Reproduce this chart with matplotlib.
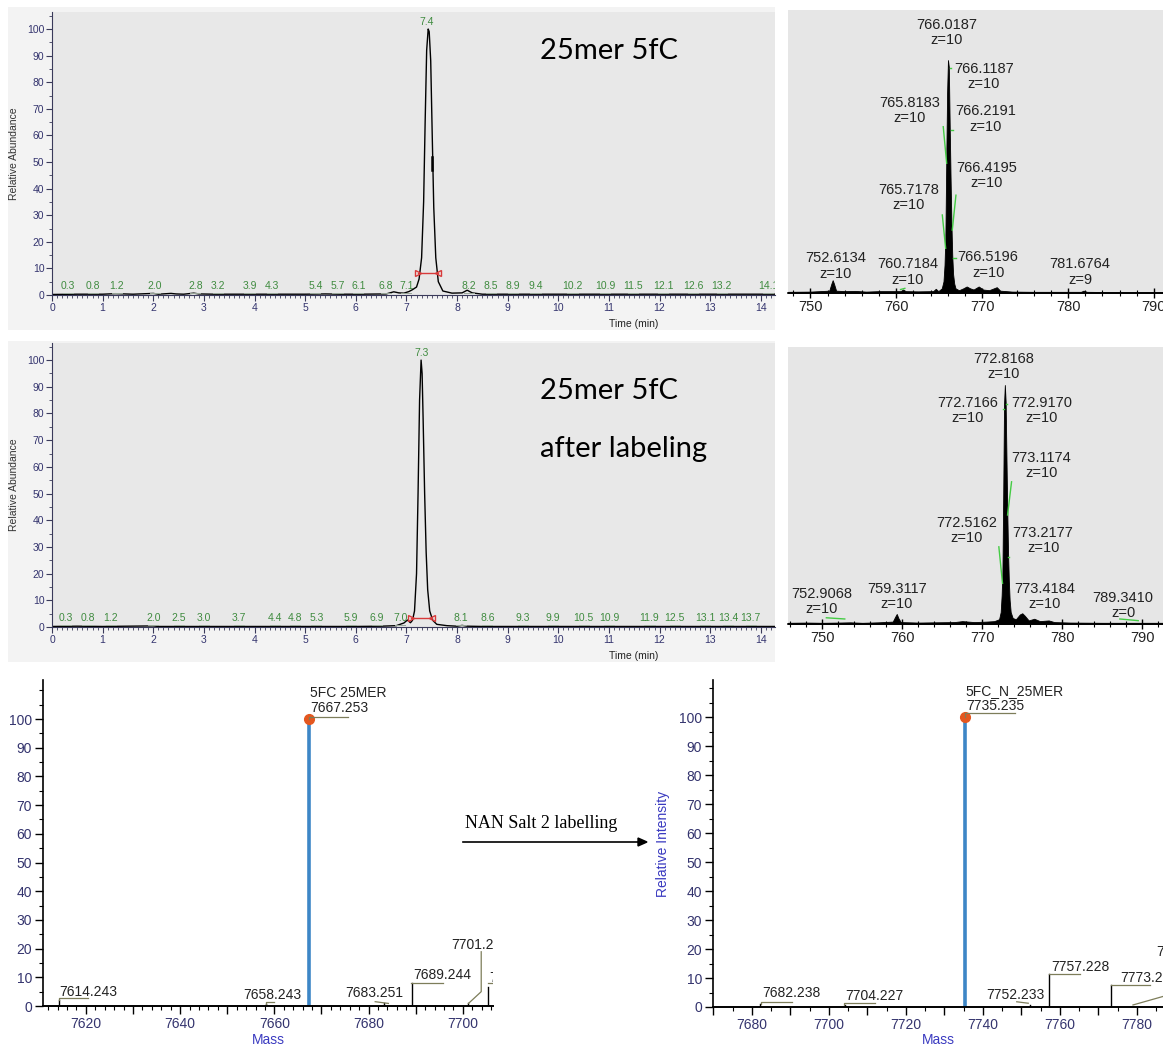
import numpy as np
import matplotlib.pyplot as plt
from matplotlib.patches import Rectangle
from matplotlib.ticker import MultipleLocator, FuncFormatter

W, H = 1163, 1049
plt.rcParams['font.family'] = ['Liberation Sans', 'DejaVu Sans']

# ---- chromatogram 1 : 25mer 5fC
t1 = [0.0, 0.5, 1.0, 1.25, 1.6, 2.0, 2.1, 2.35, 2.45, 2.6, 2.8, 2.9, 3.2, 3.9, 4.3, 5.0, 5.4, 5.7,
      6.1, 6.6, 6.75, 6.85, 6.95, 7.05, 7.12, 7.2, 7.25, 7.3, 7.34, 7.37, 7.4, 7.43, 7.45, 7.48,
      7.51, 7.54, 7.58, 7.63, 7.72, 7.9, 8.1, 8.2, 8.3, 8.5, 9.0, 10.0, 12.0, 14.3]
i1 = [0.2, 0.3, 0.3, 0.5, 0.3, 0.6, 0.3, 0.6, 0.4, 0.3, 0.7, 0.4, 0.3, 0.3, 0.3, 0.3, 0.4, 0.3,
      0.3, 0.4, 1.2, 0.8, 0.7, 1.3, 2.0, 3.0, 6.0, 14, 35, 65, 92, 100, 99, 88,
      60, 33, 14, 5, 1.5, 0.7, 0.8, 1.8, 0.8, 0.3, 0.3, 0.3, 0.3, 0.3]
lab1 = [0.3, 0.8, 1.2, 2.0, 2.8, 3.2, 3.9, 4.3, 5.4, 5.7, 6.1, 6.8, 7.1, 8.2, 8.5, 8.9, 9.4,
        10.2, 10.9, 11.5, 12.1, 12.6, 13.2, 14.1]
apex1 = 7.4

# ---- chromatogram 2 : 25mer 5fC after labeling
t2 = [0.0, 0.5, 1.0, 2.0, 2.1, 3.0, 4.0, 5.0, 6.0, 6.5, 6.8, 6.95, 7.02, 7.08, 7.12, 7.16, 7.2,
      7.23, 7.26, 7.29, 7.31, 7.33, 7.36, 7.39, 7.42, 7.46, 7.52, 7.6, 7.8, 8.0, 8.1, 8.2, 8.5,
      10.0, 12.0, 14.3]
i2 = [0.2, 0.3, 0.2, 0.4, 0.2, 0.2, 0.2, 0.2, 0.2, 0.3, 0.5, 1.5, 2.6, 1.6, 2.5, 6, 20,
      50, 85, 100, 95, 78, 50, 28, 14, 6, 2.5, 1.0, 0.5, 0.3, 0.6, 0.3, 0.2,
      0.2, 0.2, 0.2]
lab2 = [0.3, 0.8, 1.2, 2.0, 2.5, 3.0, 3.7, 4.4, 4.8, 5.3, 5.9, 6.9, 7.0, 8.1, 8.6, 9.3, 9.9,
        10.5, 10.9, 11.9, 12.5, 13.1, 13.4, 13.7]
apex2 = 7.3

# where the peak labels sit along the time axis (layout only)
lab1_x = [0.32, 0.81, 1.28, 2.03, 2.83, 3.28, 3.9, 4.34, 5.2, 5.64, 6.05, 6.6, 7.0, 8.24, 8.67,
          9.1, 9.55, 10.28, 10.93, 11.48, 12.07, 12.66, 13.23, 14.15]
lab2_x = [0.27, 0.7, 1.16, 2.0, 2.5, 3.0, 3.7, 4.4, 4.8, 5.22, 5.9, 6.42, 6.88, 8.08, 8.6, 9.3,
          9.9, 10.5, 11.0, 11.8, 12.3, 12.9, 13.35, 13.8]

# ---- MS spectrum 1 (m/z)
mz1 = [747.4, 750, 752.2, 752.45, 752.6, 752.75, 753.0, 754.0, 755.2, 756.5, 758, 760.5, 760.8,
       761.1, 762.5, 764.3, 764.6, 764.9, 765.3, 765.5, 765.62, 765.72, 765.82, 765.92, 766.02,
       766.12, 766.22, 766.32, 766.42, 766.52, 766.62, 766.75, 766.9, 767.3, 767.8, 768.2,
       768.6, 769.0, 769.6, 770.1, 770.8, 771.7, 772.1, 773.5, 776, 779, 781.5, 781.8, 782.2,
       785, 791.1]
int1 = [0.5, 0.6, 1.0, 4.0, 5.5, 4.0, 1.0, 0.8, 0.9, 0.6, 0.8, 0.8, 1.5,
        0.8, 0.7, 0.8, 1.8, 0.8, 2.0, 5, 12, 24, 56, 86, 100,
        97, 72, 50, 30, 16, 8, 4, 2, 1.2, 2.0, 2.8,
        2.0, 1.5, 2.8, 1.5, 1.2, 2.5, 1.0, 0.6, 0.5, 0.5, 0.5, 1.0, 0.5,
        0.4, 0.4]
pk1_text = ["766.0187\nz=10", "766.1187\nz=10", "765.8183\nz=10", "766.2191\nz=10",
            "766.4195\nz=10", "765.7178\nz=10", "752.6134\nz=10", "760.7184\nz=10",
            "766.5196\nz=10", "781.6764\nz=9"]
pk1_pos = [(765.9, 112), (770.2, 93), (761.6, 78.5), (770.4, 74.7), (770.5, 50.6),
           (761.4, 41), (752.9, 11.6), (761.3, 9), (770.7, 12), (781.4, 9)]

# ---- MS spectrum 2 (m/z)
mz2 = [745.7, 748, 750, 752, 753.5, 755, 757, 758.8, 759.1, 759.3, 759.5, 759.8, 762, 764,
       766.5, 767.5, 769, 770.5, 771.5, 772.1, 772.3, 772.42, 772.52, 772.62, 772.72, 772.82,
       772.92, 773.02, 773.12, 773.22, 773.32, 773.42, 773.55, 773.8, 774.2, 774.7, 775.0,
       775.3, 775.8, 776.5, 777.2, 778.3, 779, 781, 785, 789, 792.6]
int2 = [0.5, 0.6, 0.5, 0.6, 0.7, 0.5, 0.7, 1.0, 3.0, 4.2, 2.5, 0.8, 0.6, 0.7,
        0.8, 1.2, 0.8, 1.0, 1.2, 2.0, 5, 12, 22, 55, 92, 100,
        93, 70, 48, 30, 18, 10, 5, 2.5, 2.0, 4.0, 4.5,
        3.5, 1.5, 2.2, 1.2, 1.5, 0.8, 0.6, 0.5, 0.5, 0.5]
pk2_text = ["772.8168\nz=10", "772.7166\nz=10", "772.9170\nz=10", "773.1174\nz=10",
            "772.5162\nz=10", "773.2177\nz=10", "752.9068\nz=10", "759.3117\nz=10",
            "773.4184\nz=10", "789.3410\nz=0"]
pk2_pos = [(772.7, 107.7), (768.2, 89.5), (777.4, 89.5), (777.4, 66.5), (768.0, 39.3),
           (777.6, 35), (749.9, 9.3), (759.3, 11.4), (777.8, 11.4), (787.6, 7.9)]

# ---- deconvoluted masses
mass_a = [7614.243, 7658.243, 7667.253, 7683.251, 7689.244, 7701.2, 7705.3]
rel_a = [2.0, 0.8, 100, 0.9, 7.9, 0.9, 6.7]
lab_a = ["7614.243", "7658.243", "5FC 25MER\n7667.253", "7683.251", "7689.244", "7701.2", "7"]
lpos_a = [(7614.3, 5.0), (7653.4, 3.8), (7667.6, 106.4), (7675.0, 4.4), (7689.5, 10.8),
          (7697.6, 21.3), (7705.6, 9.6)]
lead_a = [[(7614.2, 2.0), (7614.2, 2.7), (7620.5, 2.7)],
          [(7658.2, 0.8), (7658.2, 1.3), (7659.9, 1.3)],
          [(7667.25, 100), (7667.25, 100.8), (7675.7, 100.8)],
          [(7681.4, 1.5), (7684.2, 0.9)],
          [(7689.1, 7.9), (7695.8, 7.9)],
          [(7703.9, 18.9), (7703.9, 5.0), (7701.2, 0.9)],
          [(7705.3, 7.9), (7709.0, 7.9)]]

mass_b = [7682.238, 7704.227, 7735.235, 7752.233, 7757.228, 7773.2]
rel_b = [1.0, 0.8, 100, 0.8, 11.4, 7.6]
lab_b = ["7682.238", "7704.227", "5FC_N_25MER\n7735.235", "7752.233", "7757.228", "7773.2", "7"]
lpos_b = [(7682.6, 4.7), (7704.2, 3.8), (7735.6, 106.4), (7741.0, 4.1), (7757.7, 13.8),
          (7775.6, 10.0), (7785.0, 19.0)]
lead_b = [[(7682.3, 1.0), (7682.3, 1.8), (7690.3, 1.8)],
          [(7703.9, 0.8), (7703.9, 1.3), (7711.9, 1.3)],
          [(7735.3, 100), (7735.3, 101.3), (7748.3, 101.3)],
          [(7748.8, 1.8), (7751.8, 1.3)],
          [(7757.2, 11.4), (7765.2, 11.4)],
          [(7773.2, 7.6), (7783.4, 7.6)],
          [(7779.0, 0.7), (7786.7, 3.6)]]


def frect(x0, y0, x1, y1):
    return [x0 / W, 1 - y1 / H, (x1 - x0) / W, (y1 - y0) / H]


navy = '#34346e'
green = '#3f8b3f'
fig = plt.figure(figsize=(W / 100, H / 100), dpi=100)
fig.patch.set_facecolor('white')

# light frames behind the chromatograms
for r in [(8, 7, 775, 330), (8, 341, 775, 662)]:
    fig.add_artist(Rectangle((r[0] / W, 1 - r[3] / H), (r[2] - r[0]) / W, (r[3] - r[1]) / H,
                             transform=fig.transFigure, facecolor='#f3f3f3', edgecolor='none',
                             zorder=0))


def chrom(rect, t, inten, labs, labx, apex, bar, title, ty):
    ax = fig.add_axes(frect(*rect))
    ax.set_facecolor('#e8e8e8')
    ax.plot(t, inten, color='black', lw=1.0)
    ax.set_xlim(0, 14.28)
    ax.set_ylim(0, 106.4)
    for s in ['top', 'right']:
        ax.spines[s].set_visible(False)
    for s in ['left', 'bottom']:
        ax.spines[s].set_color('#3a3a5a')
        ax.spines[s].set_linewidth(0.8)
    ax.xaxis.set_major_locator(MultipleLocator(1))
    ax.xaxis.set_minor_locator(MultipleLocator(0.1))
    ax.yaxis.set_major_locator(MultipleLocator(10))
    ax.yaxis.set_minor_locator(MultipleLocator(5))
    ax.tick_params(which='major', length=4, width=0.8, color='#3a3a5a', labelsize=7.5,
                   labelcolor=navy, pad=1.5)
    ax.tick_params(which='minor', length=2, width=0.6, color='#3a3a5a')
    for v, x in zip(labs, labx):
        ax.text(x, 1.5, f"{v:.1f}", color=green, fontsize=7.5, ha='center', va='bottom')
        ax.plot([x - 0.1, x + 0.1], [0.9, 0.9], color='#9aa89a', lw=0.7)
    ax.text(apex, 100.8, f"{apex:.1f}", color=green, fontsize=7.5, ha='center', va='bottom')
    ax.plot([bar[0], bar[1]], [bar[2], bar[2]], color='#d83a3a', lw=1.0)
    ax.plot([bar[0]], [bar[2]], marker='>', mfc='none', mec='#d83a3a', ms=5)
    ax.plot([bar[1]], [bar[2]], marker='<', mfc='none', mec='#d83a3a', ms=5)
    ax.set_ylabel('Relative Abundance', fontsize=7.5, color='#333333', labelpad=6)
    ax.set_xlabel('Time (min)', fontsize=7.5, color='#222222', labelpad=1)
    ax.xaxis.set_label_coords(0.805, -0.085)
    for line, y in zip(title, ty):
        ax.text(0.675, y, line, transform=ax.transAxes, fontsize=21,
                family='Lato', color='black', va='center')
    return ax


ax1 = chrom((52, 12, 775, 295), t1, i1, lab1, lab1_x, apex1, (7.23, 7.63, 8.3),
            ['25mer 5fC'], [0.862])
ax1.plot([7.505, 7.505], [47, 52], color='black', lw=1.8)
ax2 = chrom((52, 343, 775, 627), t2, i2, lab2, lab2_x, apex2, (7.09, 7.51, 3.4),
            ['25mer 5fC', 'after labeling'], [0.83, 0.625])
for t in ax1.texts + ax2.texts:
    t.set_clip_on(True)


def spectrum(rect, mz, inten, xl, yl, texts, pos):
    ax = fig.add_axes(frect(*rect))
    ax.set_facecolor('#e6e6e6')
    ax.fill_between(mz, 0, inten, color='black', lw=0.6)
    ax.set_xlim(*xl)
    ax.set_ylim(0, yl)
    for s in ['top', 'right', 'left']:
        ax.spines[s].set_visible(False)
    ax.spines['bottom'].set_linewidth(1.2)
    ax.set_yticks([])
    ax.xaxis.set_major_locator(MultipleLocator(10))
    ax.xaxis.set_minor_locator(MultipleLocator(2))
    ax.tick_params(which='major', direction='inout', length=7, width=1.0, labelsize=10.5,
                   labelcolor='#222222', pad=1.5)
    ax.tick_params(which='minor', direction='inout', length=5, width=0.8)
    for s, (x, y) in zip(texts, pos):
        ax.text(x, y, s, fontsize=10.5, color='#222222',
                ha='center', va='center', linespacing=1.1)
    return ax


ax3 = spectrum((788, 10, 1163, 293), mz1, int1, (747.4, 791.05), 121.5, pk1_text, pk1_pos)
for seg in [((765.47, 765.87), (71.4, 55.7)), ((765.36, 765.75), (33.5, 19.2)),
            ((766.95, 766.52), (42, 27)), ((766.2, 766.4), (96.5, 96.5)),
            ((766.35, 766.6), (70, 70)), ((760.5, 761.0), (1.5, 2.0)),
            ((766.6, 766.9), (15, 15))]:
    ax3.plot(seg[0], seg[1], color='#44cc44', lw=1.0)

ax4 = spectrum((788, 347, 1163, 624), mz2, int2, (745.7, 792.6), 115.9, pk2_text, pk2_pos)
for seg in [((773.66, 773.16), (59.5, 45.6)), ((772.07, 772.53), (32.3, 17)),
            ((750.5, 752.8), (2.6, 2.1)), ((787.2, 789.5), (2.1, 1.4)),
            ((772.55, 772.7), (90, 90)), ((772.95, 773.1), (92, 92)),
            ((773.2, 773.35), (28, 28))]:
    ax4.plot(seg[0], seg[1], color='#44cc44', lw=1.0)


def deconv(rect, mass, rel, labs, lpos, leads, xl, yl, minor):
    ax = fig.add_axes(frect(*rect))
    for m, r in zip(mass, rel):
        if r >= 100:
            ax.plot([m, m], [0, r], color='#3d86c6', lw=2.6, solid_capstyle='butt')
            ax.plot([m], [r], marker='o', ms=7, color='#e4571f')
        else:
            ax.plot([m, m], [0, r], color='black', lw=1.0)
    for s, (x, y) in zip(labs, lpos):
        ax.text(x, y, s, fontsize=10, color='#222222', ha='left', va='center',
                linespacing=1.05, clip_on=True)
    for ld in leads:
        ax.plot([p[0] for p in ld], [p[1] for p in ld], color='#7d7d5a', lw=0.9)
    ax.set_xlim(*xl)
    ax.set_ylim(0, yl)
    for s in ['top', 'right']:
        ax.spines[s].set_visible(False)
    ax.spines['left'].set_linewidth(1.2)
    ax.spines['bottom'].set_linewidth(1.4)
    ax.xaxis.set_major_locator(MultipleLocator(10))
    ax.xaxis.set_minor_locator(MultipleLocator(minor))
    ax.xaxis.set_major_formatter(FuncFormatter(lambda v, p: f"{v:.0f}" if round(v) % 20 == 0 else ""))
    ax.set_yticks(np.arange(0, 101, 10))
    ax.yaxis.set_minor_locator(MultipleLocator(5))
    ax.tick_params(which='major', length=6, width=1.0, labelsize=10, labelcolor=navy, pad=2)
    ax.tick_params(which='minor', length=3, width=0.8)
    ax.set_xlabel('Mass', fontsize=10, color='#3a3ac0', labelpad=1)
    ax.set_ylabel('Relative Intensity', fontsize=10, color='#3a3ac0', labelpad=6)
    return ax


ax5 = deconv((43, 680, 493, 1006), mass_a, rel_a, lab_a, lpos_a, lead_a, (7610.9, 7706.4),
             113.6, 2)
ax5.yaxis.set_label_coords(-0.1, 0.5)
ax6 = deconv((713, 680, 1163, 1007), mass_b, rel_b, lab_b, lpos_b, lead_b, (7669.9, 7786.8),
             112.8, 5)

# arrow between the deconvoluted spectra
fig.text(465 / W, 1 - 824 / H, 'NAN Salt 2 labelling', fontsize=13, family='Liberation Serif',
         va='center', ha='left')
fig.add_artist(plt.Line2D([463 / W, 640 / W], [1 - 842 / H, 1 - 842 / H], color='black', lw=1.2,
                          transform=fig.transFigure))
fig.patches.append(plt.Polygon([[638 / W, 1 - 838 / H], [647 / W, 1 - 842 / H], [638 / W, 1 - 846 / H]],
                               closed=True, color='black', transform=fig.transFigure))

fig.savefig('out.png', dpi=100)
